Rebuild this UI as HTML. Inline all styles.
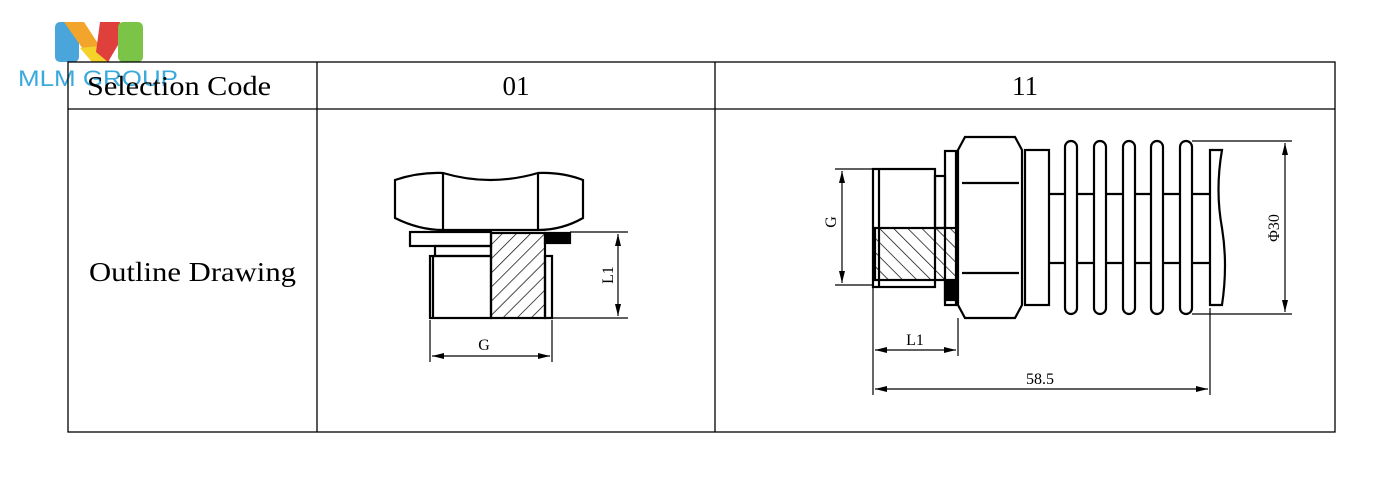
<!DOCTYPE html>
<html><head><meta charset="utf-8"><style>
html,body{margin:0;padding:0;background:#fff;width:1400px;height:500px;overflow:hidden}
svg{display:block}
</style></head><body>
<svg width="1400" height="500" viewBox="0 0 1400 500" xmlns="http://www.w3.org/2000/svg">
<defs>
<pattern id="h" patternUnits="userSpaceOnUse" width="10" height="10" patternTransform="rotate(45)">
<line x1="0" y1="0" x2="0" y2="10" stroke="#000" stroke-width="1.4"/>
</pattern>
<pattern id="h2" patternUnits="userSpaceOnUse" width="10" height="10" patternTransform="rotate(-45)">
<line x1="0" y1="0" x2="0" y2="10" stroke="#000" stroke-width="1.4"/>
</pattern>
<marker id="a" markerWidth="12" markerHeight="8" refX="12" refY="4" orient="auto-start-reverse" markerUnits="userSpaceOnUse">
<path d="M0,1 L12,4 L0,7 z" fill="#000"/></marker>
</defs>
<!-- logo -->
<rect x="55" y="22" width="24" height="40" rx="5" fill="#4aa6da"/>
<path d="M64,22 L84,22 L110,62 L92,62 z" fill="#f2a52a"/>
<path d="M80,48 L92,62 L108,62 L100,46 z" fill="#f5d22a"/>
<path d="M100,22 L120,22 L118,45 L108,62 L96,52 z" fill="#e0403c"/>
<rect x="118" y="22" width="25" height="40" rx="5" fill="#7cc447"/>
<text x="18" y="86" font-family="Liberation Sans, sans-serif" font-size="22" fill="#3aa9dc" textLength="160" lengthAdjust="spacingAndGlyphs">MLM GROUP</text>
<!-- table -->
<g stroke="#000" stroke-width="1.3" fill="none">
<rect x="68" y="62" width="1267" height="370"/>
<line x1="68" y1="109" x2="1335" y2="109"/>
<line x1="317" y1="62" x2="317" y2="432"/>
<line x1="715" y1="62" x2="715" y2="432"/>
</g>
<g font-family="Liberation Serif, serif" font-size="27" fill="#000">
<text x="87" y="95" textLength="184" lengthAdjust="spacingAndGlyphs">Selection Code</text>
<text x="516" y="95" text-anchor="middle">01</text>
<text x="1025" y="95" text-anchor="middle">11</text>
<text x="89" y="281" textLength="207" lengthAdjust="spacingAndGlyphs">Outline Drawing</text>
</g>
<!-- drawing 01 -->
<g stroke="#000" stroke-width="2.2" fill="none">
<path d="M395,180 Q419,172 443,173 Q490,187 538,173 Q562,172 583,180 L583,218 Q562,230 538,230 L443,230 Q419,230 395,218 Z"/>
<line x1="443" y1="173" x2="443" y2="230"/>
<line x1="538" y1="173" x2="538" y2="230"/>
<rect x="410" y="232" width="81" height="14"/>
<rect x="435" y="246" width="56" height="10"/>
<rect x="430" y="256" width="61" height="62"/>
<line x1="433" y1="256" x2="433" y2="318"/>
<rect x="491" y="233" width="54" height="85" fill="url(#h)"/>
<rect x="545" y="256" width="7" height="62"/>
<rect x="545" y="233" width="25" height="10" fill="#000"/>
</g>
<g stroke="#000" stroke-width="1.2" fill="none">
<line x1="570" y1="232" x2="628" y2="232"/>
<line x1="552" y1="318" x2="628" y2="318"/>
<line x1="618" y1="234" x2="618" y2="316" marker-start="url(#a)" marker-end="url(#a)"/>
<line x1="430" y1="320" x2="430" y2="362"/>
<line x1="552" y1="320" x2="552" y2="362"/>
<line x1="432" y1="356" x2="550" y2="356" marker-start="url(#a)" marker-end="url(#a)"/>
</g>
<g font-family="Liberation Serif, serif" font-size="16" fill="#000">
<text x="484" y="350" text-anchor="middle">G</text>
<text transform="translate(613,275) rotate(-90)" text-anchor="middle">L1</text>
</g>
<!-- drawing 11 -->
<g stroke="#000" stroke-width="2.2" fill="none">
<rect x="873" y="169" width="62" height="118"/>
<line x1="879" y1="169" x2="879" y2="287"/>
<rect x="935" y="176" width="10" height="52"/>
<rect x="875" y="228" width="82" height="52" fill="url(#h2)"/>
<rect x="945" y="151" width="11" height="154"/>
<rect x="945" y="282" width="10" height="18" fill="#000"/>
<path d="M965,137 L1015,137 L1022,150 L1022,305 L1015,318 L965,318 L958,305 L958,150 Z" fill="#fff"/>
<line x1="962" y1="183" x2="1019" y2="183"/>
<line x1="962" y1="273" x2="1019" y2="273"/>
<rect x="1025" y="150" width="24" height="155"/>
<line x1="1049" y1="194" x2="1210" y2="194"/>
<line x1="1049" y1="263" x2="1210" y2="263"/>
<rect x="1065" y="141" width="12" height="173" rx="6" fill="#fff"/>
<rect x="1094" y="141" width="12" height="173" rx="6" fill="#fff"/>
<rect x="1123" y="141" width="12" height="173" rx="6" fill="#fff"/>
<rect x="1151" y="141" width="12" height="173" rx="6" fill="#fff"/>
<rect x="1180" y="141" width="12" height="173" rx="6" fill="#fff"/>
<path d="M1210,150 L1222,150 Q1215,190 1222,228 Q1228,265 1222,305 L1210,305 Z"/>
</g>
<g stroke="#000" stroke-width="1.2" fill="none">
<line x1="835" y1="169" x2="873" y2="169"/>
<line x1="835" y1="285" x2="873" y2="285"/>
<line x1="842" y1="171" x2="842" y2="283" marker-start="url(#a)" marker-end="url(#a)"/>
<line x1="1192" y1="141" x2="1292" y2="141"/>
<line x1="1192" y1="314" x2="1292" y2="314"/>
<line x1="1285" y1="143" x2="1285" y2="312" marker-start="url(#a)" marker-end="url(#a)"/>
<line x1="873" y1="287" x2="873" y2="395"/>
<line x1="958" y1="318" x2="958" y2="356"/>
<line x1="1210" y1="308" x2="1210" y2="395"/>
<line x1="875" y1="350" x2="956" y2="350" marker-start="url(#a)" marker-end="url(#a)"/>
<line x1="875" y1="389" x2="1208" y2="389" marker-start="url(#a)" marker-end="url(#a)"/>
</g>
<g font-family="Liberation Serif, serif" font-size="16" fill="#000">
<text transform="translate(836,222) rotate(-90)" text-anchor="middle">G</text>
<text transform="translate(1279,228) rotate(-90)" text-anchor="middle">Φ30</text>
<text x="915" y="345" text-anchor="middle">L1</text>
<text x="1040" y="384" text-anchor="middle">58.5</text>
</g>
</svg>
</body></html>
